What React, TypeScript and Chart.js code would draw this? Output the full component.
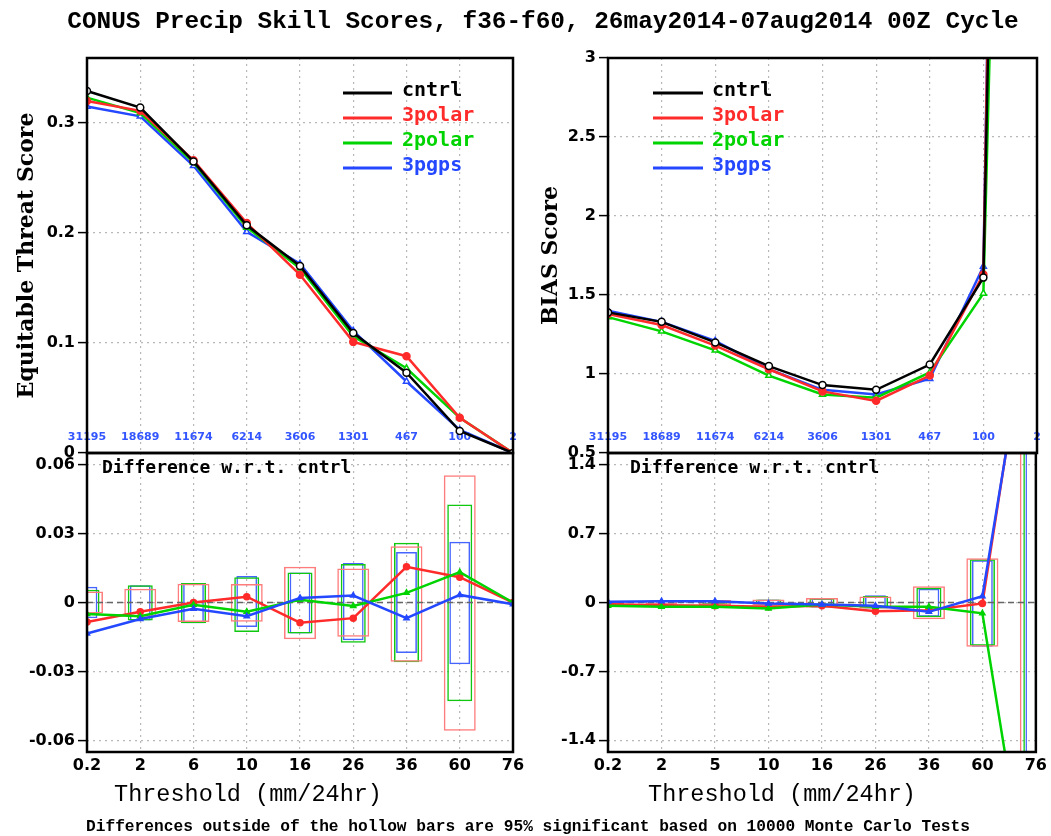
import React, { useEffect, useRef } from 'react';
import { Chart, registerables } from 'chart.js';

Chart.register(...registerables);

const PAGE_W = 1051;
const PAGE_H = 836;
const X_AXIS_H = 30;

// ---------- texts ----------
const chartTitle = 'CONUS Precip Skill Scores, f36-f60, 26may2014-07aug2014 00Z Cycle';
const xAxisTitle = 'Threshold (mm/24hr)';
const footnote = 'Differences outside of the hollow bars are 95% significant based on 10000 Monte Carlo Tests';
const diffLabel = 'Difference w.r.t. cntrl';
const etsTitle = 'Equitable Threat Score';
const biasTitle = 'BIAS Score';

// ---------- categories ----------
const thresholdsLeft = ['0.2', '2', '6', '10', '16', '26', '36', '60', '76'];
const thresholdsRight = ['0.2', '2', '5', '10', '16', '26', '36', '60', '76'];
const obsCounts = ['31195', '18689', '11674', '6214', '3606', '1301', '467', '100', '2'];

// ---------- series ----------
const seriesNames = ['cntrl', '3polar', '2polar', '3pgps'];
const seriesColors = ['#000000', '#ff2a2a', '#00d400', '#2448ff'];
const boxColors = ['#ff7c7c', '#10c810', '#4664ff'];

// Equitable Threat Score
const etsCntrl = [0.329, 0.314, 0.265, 0.207, 0.170, 0.109, 0.073, 0.020, 0.0];
const ets3polar = [0.320, 0.311, 0.266, 0.209, 0.162, 0.101, 0.088, 0.032, 0.0];
const ets2polar = [0.323, 0.309, 0.264, 0.205, 0.168, 0.106, 0.077, 0.032, 0.0];
const ets3pgps = [0.315, 0.306, 0.261, 0.201, 0.172, 0.111, 0.065, 0.021, 0.0];

// ETS difference w.r.t. cntrl
const etsDiffCntrl = [0, 0, 0, 0, 0, 0, 0, 0, 0];
const etsDiff3polar = [-0.0085, -0.004, 0.0, 0.0025, -0.0088, -0.0068, 0.0155, 0.011, 0.0];
const etsDiff2polar = [-0.005, -0.006, -0.001, -0.004, 0.0012, -0.0015, 0.0042, 0.0132, 0.0];
const etsDiff3pgps = [-0.0135, -0.0072, -0.0027, -0.006, 0.002, 0.003, -0.0068, 0.0033, -0.0008];

// ETS significance boxes (hollow bars)
const etsBoxHi3polar = [0.0048, 0.006, 0.0082, 0.008, 0.0155, 0.0148, 0.0245, 0.0553, null];
const etsBoxLo3polar = [-0.0048, -0.0062, -0.0085, -0.0084, -0.016, -0.0149, -0.0258, -0.0558, null];
const etsBoxHi2polar = [0.0055, 0.0075, 0.0085, 0.011, 0.013, 0.0167, 0.026, 0.0426, null];
const etsBoxLo2polar = [-0.0055, -0.0078, -0.009, -0.0128, -0.0135, -0.0175, -0.026, -0.0429, null];
const etsBoxHi3pgps = [0.0068, 0.0075, 0.0085, 0.0115, 0.013, 0.0172, 0.022, 0.0264, null];
const etsBoxLo3pgps = [-0.0068, -0.0078, -0.009, -0.0106, -0.0135, -0.0164, -0.022, -0.0268, null];

// BIAS score
const biasCntrl = [1.39, 1.33, 1.20, 1.05, 0.93, 0.90, 1.06, 1.61, 18];
const bias3polar = [1.38, 1.31, 1.18, 1.03, 0.89, 0.83, 0.99, 1.63, 21];
const bias2polar = [1.36, 1.27, 1.15, 0.99, 0.87, 0.85, 1.01, 1.51, 14.5];
const bias3pgps = [1.40, 1.33, 1.21, 1.03, 0.90, 0.87, 0.97, 1.68, 21];

// BIAS difference w.r.t. cntrl
const biasDiffCntrl = [0, 0, 0, 0, 0, 0, 0, 0, 0];
const biasDiff3polar = [-0.017, -0.027, -0.034, -0.044, -0.034, -0.09, -0.078, -0.01, 3.47];
const biasDiff2polar = [-0.034, -0.044, -0.044, -0.06, -0.02, -0.044, -0.044, -0.11, -3.47];
const biasDiff3pgps = [0.007, 0.013, 0.013, -0.01, -0.02, -0.034, -0.095, 0.064, 3.37];

// BIAS significance boxes
const biasBoxHi3polar = [0.015, 0.02, 0.025, 0.03, 0.045, 0.06, 0.165, 0.45, 10];
const biasBoxLo3polar = [-0.015, -0.02, -0.025, -0.03, -0.05, -0.06, -0.17, -0.45, -10];
const biasBoxHi2polar = [0.014, 0.02, 0.024, 0.03, 0.042, 0.065, 0.15, 0.44, 10];
const biasBoxLo2polar = [-0.014, -0.02, -0.024, -0.03, -0.05, -0.06, -0.15, -0.44, -10];
const biasBoxHi3pgps = [0.014, 0.02, 0.024, 0.03, 0.04, 0.074, 0.14, 0.43, 10];
const biasBoxLo3pgps = [-0.014, -0.02, -0.024, -0.03, -0.05, -0.06, -0.145, -0.45, -10];

// ---------- axes ----------
const etsRange = [0, 0.359];
const etsTicks = [0, 0.1, 0.2, 0.3];
const etsTickLabels = ['0', '0.1', '0.2', '0.3'];
const etsDiffRange = [-0.065, 0.065];
const etsDiffTicks = [-0.06, -0.03, 0, 0.03, 0.06];
const etsDiffTickLabels = ['-0.06', '-0.03', '0', '0.03', '0.06'];
const biasRange = [0.5, 3];
const biasTicks = [0.5, 1, 1.5, 2, 2.5, 3];
const biasTickLabels = ['0.5', '1', '1.5', '2', '2.5', '3'];
const biasDiffRange = [-1.52, 1.52];
const biasDiffTicks = [-1.4, -0.7, 0, 0.7, 1.4];
const biasDiffTickLabels = ['-1.4', '-0.7', '0', '0.7', '1.4'];

// ---------- layout (pixels) ----------
const AREA_TL = { l: 87, r: 513, t: 58, b: 453 };
const AREA_BL = { l: 87, r: 513, t: 453, b: 752 };
const AREA_TR = { l: 608, r: 1037, t: 58, b: 453 };
const AREA_BR = { l: 608, r: 1037, t: 453, b: 752 };

const GRID_COLOR = '#b8b8b8';
const TICK_FONT = { family: 'DejaVu Sans', size: 16, weight: 'bold' as const };
const YTITLE_FONT = { family: 'DejaVu Serif', size: 22, weight: 'bold' as const };

const decorPlugin = {
  id: 'decor',
  beforeDatasetsDraw(chart: any, _args: any, opts: any) {
    if (!opts.counts) return;
    const ctx: CanvasRenderingContext2D = chart.ctx;
    const xs = chart.scales.x;
    ctx.save();
    ctx.font = 'bold 11px "DejaVu Sans"';
    ctx.fillStyle = '#3355ff';
    ctx.textAlign = 'center';
    ctx.textBaseline = 'middle';
    opts.counts.labels.forEach((t: string, i: number) => {
      ctx.fillText(t, xs.getPixelForValue(i), opts.counts.y);
    });
    ctx.restore();
  },
  afterDatasetsDraw(chart: any, _args: any, opts: any) {
    const ctx: CanvasRenderingContext2D = chart.ctx;
    const a = chart.chartArea;
    ctx.save();
    ctx.setLineDash([]);
    ctx.strokeStyle = '#000';
    ctx.lineWidth = 2.5;
    ctx.strokeRect(a.left, a.top, a.right - a.left, a.bottom - a.top);
    if (opts.legend) {
      const L = opts.legend;
      seriesNames.forEach((name, i) => {
        const y = L.y0 + i * L.dy;
        ctx.strokeStyle = seriesColors[i];
        ctx.lineWidth = 3;
        ctx.beginPath();
        ctx.moveTo(L.x0, y + 2);
        ctx.lineTo(L.x1, y + 2);
        ctx.stroke();
        ctx.fillStyle = seriesColors[i];
        ctx.font = 'bold 20px "DejaVu Sans Mono"';
        ctx.textAlign = 'left';
        ctx.textBaseline = 'middle';
        ctx.fillText(name, L.xt, y);
      });
    }
    (opts.texts || []).forEach((t: any) => {
      ctx.font = t.font;
      ctx.fillStyle = t.color || '#000';
      ctx.textAlign = t.align || 'left';
      ctx.textBaseline = 'middle';
      ctx.fillText(t.text, t.x, t.y);
    });
    ctx.restore();
  },
};

function lineSet(label: string, data: number[], color: string, style: string, fill: string, order: number, extra: any = {}) {
  return {
    type: 'line',
    label,
    data,
    borderColor: color,
    backgroundColor: fill,
    borderWidth: 2.5,
    pointRadius: 3.5,
    pointStyle: style,
    pointBackgroundColor: fill,
    pointBorderColor: color,
    pointBorderWidth: 1.5,
    tension: 0,
    order,
    clip: 1,
    ...extra,
  };
}

function boxSet(label: string, lo: (number | null)[], hi: (number | null)[], color: string, pct: number) {
  return {
    type: 'bar',
    label,
    data: lo.map((v, k) => (v == null || hi[k] == null ? null : [v, hi[k]])),
    backgroundColor: 'rgba(0,0,0,0)',
    borderColor: color,
    borderWidth: 1.5,
    borderSkipped: false,
    grouped: false,
    barPercentage: pct,
    categoryPercentage: 1,
    order: 20,
    clip: 0,
  };
}

function buildConfig(p: any) {
  const yW = p.yW;
  return {
    type: 'line',
    data: { labels: p.labels, datasets: p.datasets },
    plugins: [decorPlugin],
    options: {
      responsive: false,
      animation: false,
      devicePixelRatio: 1,
      events: [],
      layout: {
        padding: {
          left: p.area.l - yW,
          right: PAGE_W - p.area.r,
          top: p.area.t,
          bottom: PAGE_H - p.area.b - X_AXIS_H,
        },
      },
      plugins: {
        legend: { display: false },
        tooltip: { enabled: false },
        title: { display: false },
        decor: p.decor,
      },
      scales: {
        x: {
          type: 'category',
          offset: false,
          grid: { offset: false, color: GRID_COLOR, lineWidth: 1.2, drawTicks: false },
          border: { display: false, dash: [2, 4] },
          ticks: {
            display: p.showX,
            autoSkip: false,
            maxRotation: 0,
            minRotation: 0,
            padding: 4,
            color: '#000',
            font: TICK_FONT,
          },
          afterFit: (s: any) => {
            s.height = X_AXIS_H;
          },
        },
        y: {
          type: 'linear',
          min: p.range[0],
          max: p.range[1],
          afterBuildTicks: (s: any) => {
            s.ticks = p.ticks.map((v: number) => ({ value: v }));
          },
          ticks: {
            color: '#000',
            font: TICK_FONT,
            padding: 3,
            callback: (v: number) => {
              const k = p.ticks.indexOf(v);
              return k >= 0 ? p.tickLabels[k] : '';
            },
          },
          grid: { color: GRID_COLOR, lineWidth: 1.2, tickLength: 9, tickColor: '#000', tickWidth: 1.5 },
          border: { display: false, dash: [2, 4] },
          title: p.yTitle
            ? { display: true, text: p.yTitle, color: '#000', font: YTITLE_FONT, padding: { top: 4, bottom: 0 } }
            : { display: false },
          afterFit: (s: any) => {
            s.width = yW;
          },
        },
      },
    },
  };
}

const topStyles = ['circle', 'circle', 'triangle', 'triangle'];
const topFills = ['#ffffff', seriesColors[1], '#ffffff', '#ffffff'];

function configTL() {
  const data = [etsCntrl, ets3polar, ets2polar, ets3pgps];
  return buildConfig({
    area: AREA_TL,
    yW: 77,
    labels: thresholdsLeft,
    showX: false,
    range: etsRange,
    ticks: etsTicks,
    tickLabels: etsTickLabels,
    yTitle: etsTitle,
    datasets: data.map((d, i) => lineSet(seriesNames[i], d, seriesColors[i], topStyles[i], topFills[i], i)),
    decor: {
      counts: { labels: obsCounts, y: 437 },
      legend: { x0: 343, x1: 392, xt: 402, y0: 91, dy: 25 },
      texts: [
        { text: chartTitle, x: 543, y: 22, font: 'bold 24.4px "Liberation Mono"', align: 'center' },
      ],
    },
  });
}

function configTR() {
  const data = [biasCntrl, bias3polar, bias2polar, bias3pgps];
  return buildConfig({
    area: AREA_TR,
    yW: 74,
    labels: thresholdsRight,
    showX: false,
    range: biasRange,
    ticks: biasTicks,
    tickLabels: biasTickLabels,
    yTitle: biasTitle,
    datasets: data.map((d, i) => lineSet(seriesNames[i], d, seriesColors[i], topStyles[i], topFills[i], i)),
    decor: {
      counts: { labels: obsCounts, y: 437 },
      legend: { x0: 653, x1: 703, xt: 712, y0: 91, dy: 25 },
      texts: [],
    },
  });
}

function bottomDatasets(diffs: number[][], boxes: (number | null)[][][]) {
  const pcts = [0.6, 0.47, 0.39];
  const sets: any[] = [];
  sets.push(
    lineSet(seriesNames[0], diffs[0], '#666666', 'circle', '#666666', 10, {
      borderWidth: 1.5,
      borderDash: [6, 4],
      pointRadius: 0,
    })
  );
  const styles = ['circle', 'triangle', 'triangle'];
  for (let i = 0; i < 3; i++) {
    sets.push(lineSet(seriesNames[i + 1], diffs[i + 1], seriesColors[i + 1], styles[i], seriesColors[i + 1], 3 - i, { pointRadius: 3 }));
  }
  for (let i = 0; i < 3; i++) {
    sets.push(boxSet(seriesNames[i + 1] + ' box', boxes[i][0], boxes[i][1], boxColors[i], pcts[i]));
  }
  return sets;
}

function configBL() {
  return buildConfig({
    area: AREA_BL,
    yW: 77,
    labels: thresholdsLeft,
    showX: true,
    range: etsDiffRange,
    ticks: etsDiffTicks,
    tickLabels: etsDiffTickLabels,
    yTitle: null,
    datasets: bottomDatasets(
      [etsDiffCntrl, etsDiff3polar, etsDiff2polar, etsDiff3pgps],
      [
        [etsBoxLo3polar, etsBoxHi3polar],
        [etsBoxLo2polar, etsBoxHi2polar],
        [etsBoxLo3pgps, etsBoxHi3pgps],
      ]
    ),
    decor: {
      texts: [
        { text: diffLabel, x: 102, y: 468, font: 'bold 18px "DejaVu Sans Mono"' },
        { text: xAxisTitle, x: 248, y: 795, font: '23.5px "Liberation Mono"', align: 'center' },
        { text: footnote, x: 528, y: 827, font: 'bold 16.2px "Liberation Mono"', align: 'center' },
      ],
    },
  });
}

function configBR() {
  return buildConfig({
    area: AREA_BR,
    yW: 74,
    labels: thresholdsRight,
    showX: true,
    range: biasDiffRange,
    ticks: biasDiffTicks,
    tickLabels: biasDiffTickLabels,
    yTitle: null,
    datasets: bottomDatasets(
      [biasDiffCntrl, biasDiff3polar, biasDiff2polar, biasDiff3pgps],
      [
        [biasBoxLo3polar, biasBoxHi3polar],
        [biasBoxLo2polar, biasBoxHi2polar],
        [biasBoxLo3pgps, biasBoxHi3pgps],
      ]
    ),
    decor: {
      texts: [
        { text: diffLabel, x: 630, y: 468, font: 'bold 18px "DejaVu Sans Mono"' },
        { text: xAxisTitle, x: 782, y: 795, font: '23.5px "Liberation Mono"', align: 'center' },
      ],
    },
  });
}

export default function App() {
  const rTL = useRef<HTMLCanvasElement>(null);
  const rTR = useRef<HTMLCanvasElement>(null);
  const rBL = useRef<HTMLCanvasElement>(null);
  const rBR = useRef<HTMLCanvasElement>(null);

  useEffect(() => {
    const charts = [
      new Chart(rTL.current as HTMLCanvasElement, configTL() as any),
      new Chart(rTR.current as HTMLCanvasElement, configTR() as any),
      new Chart(rBL.current as HTMLCanvasElement, configBL() as any),
      new Chart(rBR.current as HTMLCanvasElement, configBR() as any),
    ];
    return () => charts.forEach((c) => c.destroy());
  }, []);

  const canvasStyle: React.CSSProperties = { position: 'absolute', left: 0, top: 0, width: PAGE_W, height: PAGE_H };
  return (
    <div style={{ position: 'absolute', left: 0, top: 0, width: PAGE_W, height: PAGE_H, background: '#fff', overflow: 'hidden' }}>
      <canvas ref={rBL} width={PAGE_W} height={PAGE_H} style={canvasStyle} />
      <canvas ref={rBR} width={PAGE_W} height={PAGE_H} style={canvasStyle} />
      <canvas ref={rTL} width={PAGE_W} height={PAGE_H} style={canvasStyle} />
      <canvas ref={rTR} width={PAGE_W} height={PAGE_H} style={canvasStyle} />
    </div>
  );
}
